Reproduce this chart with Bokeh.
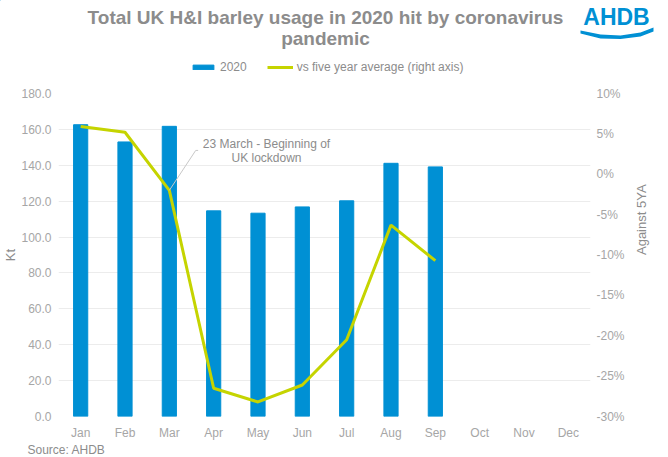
import math
from bokeh.plotting import figure
from bokeh.layouts import column
from bokeh.models import (ColumnDataSource, Range1d, LinearAxis, Legend, LegendItem,
                          Label, FixedTicker, NumeralTickFormatter,
                          PrintfTickFormatter)
from bokeh.core.properties import value
from bokeh.embed import file_html
from bokeh.resources import INLINE

# ---------------- data ----------------
months = ["Jan", "Feb", "Mar", "Apr", "May", "Jun", "Jul", "Aug", "Sep", "Oct", "Nov", "Dec"]
usage_months = ["Jan", "Feb", "Mar", "Apr", "May", "Jun", "Jul", "Aug", "Sep"]
usage_kt = [162.6, 153.0, 161.7, 114.6, 113.3, 116.8, 120.2, 141.1, 139.1]
vs_5ya_pct = [5.9, 5.2, -2.0, -26.5, -28.2, -26.1, -20.5, -6.3, -10.7]
left_ticks = [0, 20, 40, 60, 80, 100, 120, 140, 160, 180]
right_ticks = [-30, -25, -20, -15, -10, -5, 0, 5, 10]
title_lines = ["Total UK H&I barley usage in 2020 hit by coronavirus", "pandemic"]
note_lines = ["23 March - Beginning of", "UK lockdown"]
source_text = "Source: AHDB"

FONT = "Liberation Sans"
GREY = "#8c8c8c"
TICK = "#a6a6a6"
BLUE = "#0090d4"
LIME = "#c5d400"
W = 668


def no_align(f):
    try:
        f.frame_align = False
    except Exception:
        pass


def blank(h):
    f = figure(width=W, height=h, x_range=Range1d(0, W), y_range=Range1d(h, 0),
               x_axis_type=None, y_axis_type=None, title=None,
               output_backend="svg", toolbar_location=None, min_border=0)
    f.grid.grid_line_color = None
    f.outline_line_color = None
    no_align(f)
    return f


# ---------------- header (title, logo, legend) ----------------
hdr = blank(83)
hdr.text(x=[325, 325], y=[17, 38], text=title_lines, text_align="center",
         text_baseline="middle", text_font=value(FONT), text_font_size="19px",
         text_font_style="bold", text_color=GREY)
hdr.text(x=[616], y=[16], text=["AHDB"], text_align="center", text_baseline="middle",
         text_font=value(FONT), text_font_size="23px", text_font_style="bold", text_color=BLUE)
wave_x = [580, 600, 620, 640, 653, 653, 640, 620, 600, 580]
wave_y = [30, 34, 35, 32, 27, 31, 36, 38.5, 38, 33]
hdr.patch(x=wave_x, y=wave_y, fill_color=BLUE, line_color=None)

lg_bar = hdr.vbar(x=[-10], top=[-10], width=1, fill_color=BLUE, line_color=BLUE)
lg_line = hdr.line(x=[-10, -9], y=[-10, -10], line_color=LIME, line_width=3)
legend = Legend(items=[LegendItem(label="2020", renderers=[lg_bar]),
                       LegendItem(label="vs five year average (right axis)", renderers=[lg_line])],
                orientation="horizontal", location=(190, 9),
                glyph_width=26, glyph_height=6, label_standoff=4, spacing=20,
                padding=0, margin=0, background_fill_alpha=0, border_line_color=None,
                label_text_font=FONT, label_text_font_size="12px", label_text_color=GREY)
hdr.add_layout(legend, "center")

# ---------------- main chart ----------------
src_bar = ColumnDataSource(dict(m=usage_months, kt=usage_kt))
src_line = ColumnDataSource(dict(m=usage_months, pct=vs_5ya_pct))

p = figure(x_range=months, y_range=Range1d(0, 180), width=W, height=360,
           output_backend="svg", toolbar_location=None, title=None,
           min_border_left=58, min_border_right=78, min_border_top=10, min_border_bottom=27)
p.outline_line_color = None
p.extra_y_ranges = {"pct": Range1d(-30, 10)}
no_align(p)

bars = p.vbar(x="m", top="kt", width=0.32, source=src_bar, fill_color=BLUE, line_color=BLUE)
line = p.line(x="m", y="pct", source=src_line, y_range_name="pct", line_color=LIME, line_width=3)

p.yaxis.ticker = FixedTicker(ticks=left_ticks)
p.yaxis.formatter = NumeralTickFormatter(format="0.0")
p.yaxis.axis_label = "Kt"
ax_r = LinearAxis(y_range_name="pct", ticker=FixedTicker(ticks=right_ticks),
                  formatter=PrintfTickFormatter(format="%d%%"), axis_label="Against 5YA")
p.add_layout(ax_r, "right")

for ax in [p.xaxis[0], p.yaxis[0], ax_r]:
    ax.axis_line_color = None
    ax.major_tick_line_color = None
    ax.minor_tick_line_color = None
    ax.major_tick_out = 0
    ax.major_tick_in = 0
    ax.major_label_text_color = TICK
    ax.major_label_text_font = FONT
    ax.major_label_text_font_size = "12px"
    ax.axis_label_text_font = FONT
    ax.axis_label_text_font_size = "13px"
    ax.axis_label_text_font_style = "normal"
    ax.axis_label_text_color = GREY
    ax.axis_label_standoff = 0
p.yaxis.major_label_standoff = 7
ax_r.major_label_standoff = 6
ax_r.axis_label_standoff = 14
p.xaxis.major_label_standoff = 9
try:
    ax_r.axis_label_orientation = math.pi / 2
except Exception:
    pass

p.xgrid.grid_line_color = None
p.ygrid.ticker = FixedTicker(ticks=left_ticks)
p.ygrid.grid_line_color = "#ececec"

# annotation (leader from the March point)
mar_i = usage_months.index("Mar")
ax_x = mar_i + 0.5
ax_y = vs_5ya_pct[mar_i]
p.line(x=[ax_x + 0.65, ax_x + 0.595, ax_x], y=[ax_y + 4.95, ax_y + 4.95, ax_y],
       y_range_name="pct", line_color="#c8c8c8", line_width=1)
for i, t in enumerate(note_lines):
    p.add_layout(Label(x=208, y=273 - 14 * i, x_units="screen", y_units="screen", text=t,
                       text_align="center", text_baseline="middle", text_font=FONT,
                       text_font_size="12px", text_color=GREY))

# ---------------- footer ----------------
ftr = blank(14)
ftr.text(x=[27], y=[6], text=[source_text], text_align="left", text_baseline="middle",
         text_font=value(FONT), text_font_size="12px", text_color=GREY)

layout = column(hdr, p, ftr, spacing=0)
open("out.html", "w").write(file_html(layout, INLINE))
